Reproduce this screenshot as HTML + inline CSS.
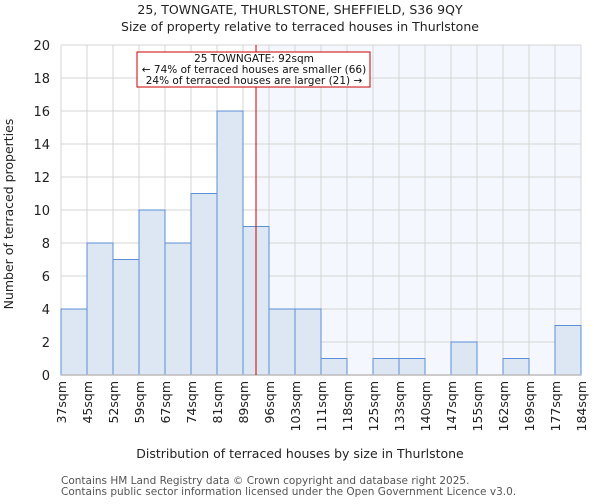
<!DOCTYPE html>
<html><head><meta charset="utf-8"><style>
body{margin:0;background:#fff;font-family:"DejaVu Sans","Liberation Sans",sans-serif;}
</style></head><body>
<svg id="chart" width="600" height="500" xmlns="http://www.w3.org/2000/svg" font-family="DejaVu Sans, Liberation Sans, sans-serif"></svg>
<script>
const categories=["37sqm","45sqm","52sqm","59sqm","67sqm","74sqm","81sqm","89sqm","96sqm","103sqm","111sqm","118sqm","125sqm","133sqm","140sqm","147sqm","155sqm","162sqm","169sqm","177sqm","184sqm"];
const counts=[4,8,7,10,8,11,16,9,4,4,1,0,1,1,0,2,0,1,0,3];
const yTicks=[0,2,4,6,8,10,12,14,16,18,20];
const markerIndex=7.5;
const NS="http://www.w3.org/2000/svg";
const svg=document.getElementById('chart');
const L=61,R=581,T=45,B=375,yMax=20;
const bw=(R-L)/counts.length;
const xs=i=>L+i*bw;
const ys=v=>B-v/yMax*(B-T);
function mk(t,a,txt){const e=document.createElementNS(NS,t);for(const k in a)e.setAttribute(k,a[k]);if(txt!==undefined)e.textContent=txt;svg.appendChild(e);return e;}
let e;
e=mk('rect',{x:xs(markerIndex),y:T,width:R-xs(markerIndex),height:B-T,fill:'#f4f7fd'});


yTicks.forEach(v=>{e=mk('line',{x1:L,x2:R,y1:ys(v),y2:ys(v),stroke:'#d4d4d4','stroke-width':1});


e=mk('text',{x:L-11,y:ys(v)+5,'text-anchor':'end','font-size':13,fill:'#222'},v);

});
categories.forEach((c,i)=>{e=mk('line',{x1:xs(i),x2:xs(i),y1:T,y2:B,stroke:'#d4d4d4','stroke-width':1});


e=mk('text',{transform:`translate(${xs(i)+5},381) rotate(-90)`,'text-anchor':'end','font-size':12.5,fill:'#222'},c);

});
counts.forEach((v,i)=>{e=mk('rect',{x:xs(i),y:ys(v),width:bw,height:B-ys(v),fill:'#dde6f3',stroke:'#5b8fd6','stroke-width':1});

});
e=mk('line',{x1:L,x2:R,y1:B,y2:B,stroke:'#bbbbbb','stroke-width':1.5});


e=mk('line',{x1:xs(markerIndex),x2:xs(markerIndex),y1:T,y2:B,stroke:'#cc0000','stroke-width':1});


e=mk('rect',{x:137,y:52,width:233,height:35,fill:'#fff',stroke:'#cc0000','stroke-width':1});


[["25 TOWNGATE: 92sqm",62],["← 74% of terraced houses are smaller (66)",73],["24% of terraced houses are larger (21) →",84]].forEach(([t,y])=>{e=mk('text',{x:254,y:y,'text-anchor':'middle','font-size':10.5,fill:'#111'},t);

});
e=mk('text',{x:300,y:14,'text-anchor':'middle','font-size':12.5,fill:'#222'},"25, TOWNGATE, THURLSTONE, SHEFFIELD, S36 9QY");


e=mk('text',{x:300,y:31,'text-anchor':'middle','font-size':12.5,fill:'#222'},"Size of property relative to terraced houses in Thurlstone");


e=mk('text',{x:300,y:458,'text-anchor':'middle','font-size':12.5,fill:'#222'},"Distribution of terraced houses by size in Thurlstone");


e=mk('text',{transform:'translate(13,214) rotate(-90)','text-anchor':'middle','font-size':12.5,fill:'#222'},"Number of terraced properties");


e=mk('text',{x:61,y:484,'font-size':10.5,fill:'#555'},"Contains HM Land Registry data © Crown copyright and database right 2025.");


e=mk('text',{x:61,y:495,'font-size':10.5,fill:'#555'},"Contains public sector information licensed under the Open Government Licence v3.0.");


</script>
</body></html>
